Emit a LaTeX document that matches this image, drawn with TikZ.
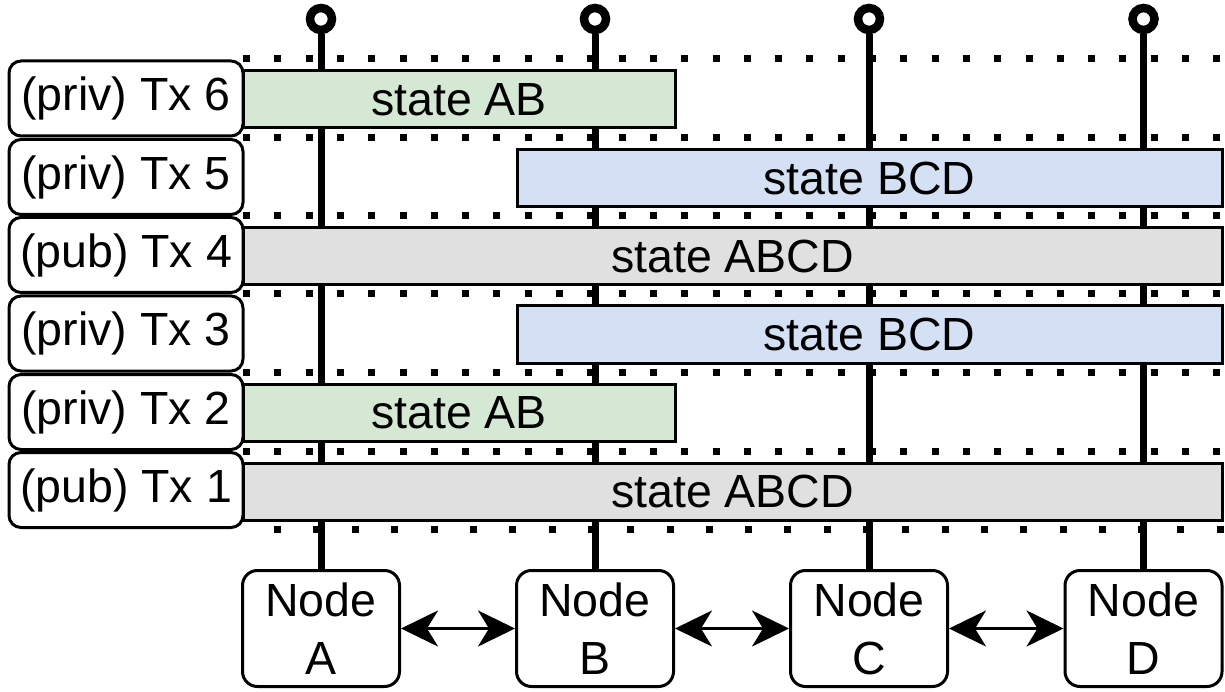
\documentclass[tikz,border=0pt]{standalone}
\usepackage{fontspec}
\setmainfont{Liberation Sans}
\usetikzlibrary{arrows.meta}
\definecolor{abfill}{HTML}{D5E8D4}
\definecolor{bcdfill}{HTML}{D4E1F5}
\definecolor{pubfill}{HTML}{E0E0E0}
\tikzset{
  every node/.style={font=\fontsize{46.5}{58}\selectfont},
  txlabel/.style={draw, line width=3pt, rounded corners=12pt, fill=white,
    minimum width=234pt, minimum height=75pt, inner sep=0pt},
  statebar/.style={draw, line width=3pt, minimum height=57pt, inner sep=0pt},
  peer/.style={draw, line width=3pt, rounded corners=15pt, fill=white,
    minimum width=157pt, minimum height=116pt, align=center, inner sep=0pt},
  rail/.style={line width=7pt},
  railtop/.style={circle, draw, line width=8.5pt, fill=white,
    minimum size=22pt, inner sep=0pt},
  blockline/.style={line width=7pt, dash pattern=on 7pt off 24.3pt},
  lastline/.style={line width=7pt, dash pattern=on 7pt off 32.3pt},
  link/.style={line width=3pt,
    {Stealth[length=37pt,width=36pt,inset=11pt]}-{Stealth[length=37pt,width=36pt,inset=11pt]}},
}
\begin{document}
\begin{tikzpicture}[x=1pt,y=-1pt]
\useasboundingbox (0,0) rectangle (1225,692);

% peers at the bottom
\node[peer] (nA) at (321,628.5) {Node\\A};
\node[peer] (nB) at (595,628.5) {Node\\B};
\node[peer] (nC) at (869,628.5) {Node\\C};
\node[peer] (nD) at (1143.5,628.5) {Node\\D};

% end points of the rails
\node[railtop] (eA) at (321,19) {};
\node[railtop] (eB) at (595,19) {};
\node[railtop] (eC) at (869,19) {};
\node[railtop] (eD) at (1143.5,19) {};

% rails from the end points down to the peers
\draw[rail] (eA.south) -- (nA.north);
\draw[rail] (eB.south) -- (nB.north);
\draw[rail] (eC.south) -- (nC.north);
\draw[rail] (eD.south) -- (nD.north);

% block boundaries
\foreach \yy in {59,137.5,216,294,372,451}
  \draw[blockline] (243,\yy) -- (1225,\yy);
\draw[lastline] (273.5,529) -- (1225,529);

% transaction labels
\node[txlabel] (tx6) at (126,98.5)  {(priv) Tx 6};
\node[txlabel] (tx5) at (126,177)   {(priv) Tx 5};
\node[txlabel] (tx4) at (126,255)   {(pub) Tx 4};
\node[txlabel] (tx3) at (126,333.5) {(priv) Tx 3};
\node[txlabel] (tx2) at (126,412)   {(priv) Tx 2};
\node[txlabel] (tx1) at (126,490)   {(pub) Tx 1};

% state touched by each transaction
\node[statebar, fill=abfill,  minimum width=432pt] (s6) at (459,99.5)    {state AB};
\node[statebar, fill=bcdfill, minimum width=705pt] (s5) at (869.5,178.5) {state BCD};
\node[statebar, fill=pubfill, minimum width=979pt] (s4) at (732.5,256.5) {state ABCD};
\node[statebar, fill=bcdfill, minimum width=705pt] (s3) at (869.5,334.5) {state BCD};
\node[statebar, fill=abfill,  minimum width=432pt] (s2) at (459,413)     {state AB};
\node[statebar, fill=pubfill, minimum width=979pt] (s1) at (732.5,491.5) {state ABCD};

% links between peers
\draw[link] (nA) -- (nB);
\draw[link] (nB) -- (nC);
\draw[link] (nC) -- (nD);
\end{tikzpicture}
\end{document}
